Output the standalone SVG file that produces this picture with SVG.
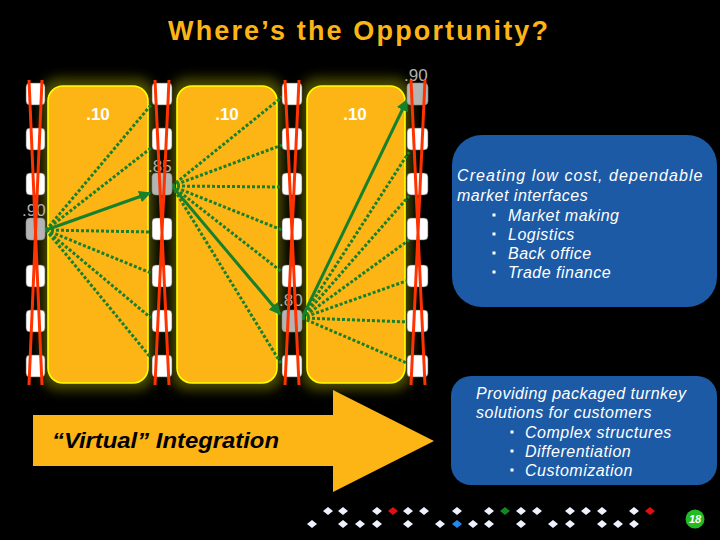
<svg xmlns="http://www.w3.org/2000/svg" width="720" height="540" viewBox="0 0 720 540">
<defs>
<filter id="glow" x="-30%" y="-10%" width="160%" height="120%"><feGaussianBlur stdDeviation="6"/></filter>
<marker id="ah" viewBox="0 0 10 10" refX="9" refY="5" markerWidth="4" markerHeight="4" orient="auto"><path d="M0,0 L10,5 L0,10 z" fill="#17802c"/></marker>
<style>
.panel{fill:#fdb515;stroke:#ffff00;stroke-width:1.6}
.gl{fill:#a8a800;opacity:0.45}
.n{fill:#ffffff;stroke:#555;stroke-width:0.6}
.g{fill:#b4b4b4;stroke:#888;stroke-width:0.6}
.lbl{font-family:"Liberation Sans",Arial,sans-serif;font-size:17px;font-weight:bold;fill:#ffffff;text-anchor:middle}
.pl{font-family:"Liberation Sans",Arial,sans-serif;font-size:17px;fill:#b0b0b0}
.dot{stroke:#17802c;stroke-width:3;stroke-dasharray:3 2;fill:none}
.sol{stroke:#17802c;stroke-width:3;fill:none;marker-end:url(#ah)}
.red{stroke:#ff3300;stroke-width:3;fill:none}
.bt{font-family:"Liberation Sans",Arial,sans-serif;font-size:16px;font-style:italic;fill:#ffffff;letter-spacing:0.5px}
.box{fill:#1c5aa6}
.d{fill:#eef2ff}
</style>
</defs>
<rect width="720" height="540" fill="#000"/>
<text x="358" y="40" text-anchor="middle" textLength="380" lengthAdjust="spacing" font-family="'Liberation Sans',Arial,sans-serif" font-size="27" font-weight="bold" fill="#fdb515">Where’s the Opportunity?</text>

<g id="glows" filter="url(#glow)">
<rect class="gl" x="42" y="78" width="112" height="312" rx="16"/>
<rect class="gl" x="171" y="78" width="112" height="312" rx="16"/>
<rect class="gl" x="301" y="78" width="110" height="312" rx="16"/>
</g>

<g id="panel1"><rect class="panel" x="48" y="86" width="100" height="297" rx="15"/><text class="lbl" x="98" y="120">.10</text></g>
<g id="panel2"><rect class="panel" x="177" y="86" width="100" height="297" rx="15"/><text class="lbl" x="227" y="120">.10</text></g>
<g id="panel3"><rect class="panel" x="307" y="86" width="98" height="297" rx="15"/><text class="lbl" x="355" y="120">.10</text></g>

<g id="connectors">
<path class="dot" d="M46,230 L151,105"/>
<path class="dot" d="M46,230 L151,148"/>
<path class="sol" d="M46,230 L150,193"/>
<path class="dot" d="M46,230 L151,232"/>
<path class="dot" d="M46,230 L151,273"/>
<path class="dot" d="M46,230 L151,318"/>
<path class="dot" d="M46,230 L151,358"/>
<path class="dot" d="M172,186 L282,97"/>
<path class="dot" d="M172,186 L282,145"/>
<path class="dot" d="M172,186 L282,187"/>
<path class="dot" d="M172,186 L282,230"/>
<path class="dot" d="M172,186 L282,272"/>
<path class="sol" d="M172,186 L280,314"/>
<path class="dot" d="M172,186 L282,365"/>
<path class="sol" d="M302,318 L407,100"/>
<path class="dot" d="M302,318 L409,152"/>
<path class="dot" d="M302,318 L409,196"/>
<path class="dot" d="M302,318 L409,240"/>
<path class="dot" d="M302,318 L409,280"/>
<path class="dot" d="M302,318 L409,322"/>
<path class="dot" d="M302,318 L409,364"/>
</g>

<g id="col1">
<rect class="n" x="26" y="83" width="19" height="22" rx="4"/>
<rect class="n" x="26" y="128" width="19" height="22" rx="4"/>
<rect class="n" x="26" y="173" width="19" height="22" rx="4"/>
<rect class="g" x="26" y="218" width="19" height="22" rx="4"/>
<rect class="n" x="26" y="265" width="19" height="22" rx="4"/>
<rect class="n" x="26" y="310" width="19" height="22" rx="4"/>
<rect class="n" x="26" y="355" width="19" height="22" rx="4"/>
<text class="pl" x="22" y="216">.90</text>
</g>
<g id="col2">
<rect class="n" x="152" y="83" width="20" height="22" rx="4"/>
<rect class="n" x="152" y="128" width="20" height="22" rx="4"/>
<rect class="g" x="152" y="173" width="20" height="22" rx="4"/>
<rect class="n" x="152" y="218" width="20" height="22" rx="4"/>
<rect class="n" x="152" y="265" width="20" height="22" rx="4"/>
<rect class="n" x="152" y="310" width="20" height="22" rx="4"/>
<rect class="n" x="152" y="355" width="20" height="22" rx="4"/>
<text class="pl" x="148" y="172">.85</text>
</g>
<g id="col3">
<rect class="n" x="282" y="83" width="20" height="22" rx="4"/>
<rect class="n" x="282" y="128" width="20" height="22" rx="4"/>
<rect class="n" x="282" y="173" width="20" height="22" rx="4"/>
<rect class="n" x="282" y="218" width="20" height="22" rx="4"/>
<rect class="n" x="282" y="265" width="20" height="22" rx="4"/>
<rect class="g" x="282" y="310" width="20" height="22" rx="4"/>
<rect class="n" x="282" y="355" width="20" height="22" rx="4"/>
<text class="pl" x="279" y="306">.80</text>
</g>
<g id="col4">
<rect class="g" x="407" y="83" width="21" height="22" rx="4"/>
<rect class="n" x="407" y="128" width="21" height="22" rx="4"/>
<rect class="n" x="407" y="173" width="21" height="22" rx="4"/>
<rect class="n" x="407" y="218" width="21" height="22" rx="4"/>
<rect class="n" x="407" y="265" width="21" height="22" rx="4"/>
<rect class="n" x="407" y="310" width="21" height="22" rx="4"/>
<rect class="n" x="407" y="355" width="21" height="22" rx="4"/>
<text class="pl" x="404" y="81">.90</text>
</g>

<g id="redlines">
<path class="red" d="M29,80 L42,385 M42,80 L29,385"/>
<path class="red" d="M155,80 L169,385 M169,80 L155,385"/>
<path class="red" d="M285,80 L299,385 M299,80 L285,385"/>
<path class="red" d="M411,80 L425,385 M425,80 L411,385"/>
</g>

<g id="box1">
<rect class="box" x="452" y="135" width="265" height="172" rx="30"/>
<text class="bt" x="457" y="181" textLength="246" lengthAdjust="spacing">Creating low cost, dependable</text>
<text class="bt" x="457" y="201">market interfaces</text>
<rect x="492.5" y="213.5" width="3" height="3" fill="#fff"/><text class="bt" x="508" y="221">Market making</text>
<rect x="492.5" y="232.5" width="3" height="3" fill="#fff"/><text class="bt" x="508" y="240">Logistics</text>
<rect x="492.5" y="251.5" width="3" height="3" fill="#fff"/><text class="bt" x="508" y="259">Back office</text>
<rect x="492.5" y="270.5" width="3" height="3" fill="#fff"/><text class="bt" x="508" y="278">Trade finance</text>
</g>

<g id="box2">
<rect class="box" x="451" y="376" width="266" height="109" rx="20"/>
<text class="bt" x="476" y="399">Providing packaged turnkey</text>
<text class="bt" x="476" y="418">solutions for customers</text>
<rect x="510.5" y="430.5" width="3" height="3" fill="#fff"/><text class="bt" x="525" y="438">Complex structures</text>
<rect x="510.5" y="449.5" width="3" height="3" fill="#fff"/><text class="bt" x="525" y="457">Differentiation</text>
<rect x="510.5" y="468.5" width="3" height="3" fill="#fff"/><text class="bt" x="525" y="476">Customization</text>
</g>

<g id="arrow">
<path d="M33,415 L333,415 L333,390 L434,441 L333,492 L333,466 L33,466 Z" fill="#fdb515"/>
<text x="52" y="448" textLength="227" lengthAdjust="spacingAndGlyphs" font-family="'Liberation Sans',Arial,sans-serif" font-size="22" font-style="italic" font-weight="bold" fill="#000">“Virtual” Integration</text>
</g>

<g id="diamonds">
<path class="d" d="M328,507 l5,4 l-5,4 l-5,-4z M343,507 l5,4 l-5,4 l-5,-4z M377,507 l5,4 l-5,4 l-5,-4z M408,507 l5,4 l-5,4 l-5,-4z M424,507 l5,4 l-5,4 l-5,-4z M457,507 l5,4 l-5,4 l-5,-4z M489,507 l5,4 l-5,4 l-5,-4z M521,507 l5,4 l-5,4 l-5,-4z M537,507 l5,4 l-5,4 l-5,-4z M570,507 l5,4 l-5,4 l-5,-4z M586,507 l5,4 l-5,4 l-5,-4z M602,507 l5,4 l-5,4 l-5,-4z M634,507 l5,4 l-5,4 l-5,-4z"/>
<path d="M393,507 l5,4 l-5,4 l-5,-4z M650,507 l5,4 l-5,4 l-5,-4z" fill="#e01010"/>
<path d="M505,507 l5,4 l-5,4 l-5,-4z" fill="#118822"/>
<path class="d" d="M312,520 l5,4 l-5,4 l-5,-4z M343,520 l5,4 l-5,4 l-5,-4z M360,520 l5,4 l-5,4 l-5,-4z M377,520 l5,4 l-5,4 l-5,-4z M408,520 l5,4 l-5,4 l-5,-4z M440,520 l5,4 l-5,4 l-5,-4z M473,520 l5,4 l-5,4 l-5,-4z M489,520 l5,4 l-5,4 l-5,-4z M521,520 l5,4 l-5,4 l-5,-4z M553,520 l5,4 l-5,4 l-5,-4z M570,520 l5,4 l-5,4 l-5,-4z M602,520 l5,4 l-5,4 l-5,-4z M618,520 l5,4 l-5,4 l-5,-4z M634,520 l5,4 l-5,4 l-5,-4z"/>
<path d="M457,520 l5,4 l-5,4 l-5,-4z" fill="#2288ee"/>
</g>

<g id="pagenum">
<circle cx="695" cy="519" r="9.5" fill="#22bb22"/>
<text x="695" y="523" text-anchor="middle" font-family="'Liberation Sans',Arial,sans-serif" font-size="11" font-style="italic" font-weight="bold" fill="#fff">18</text>
</g>
</svg>
